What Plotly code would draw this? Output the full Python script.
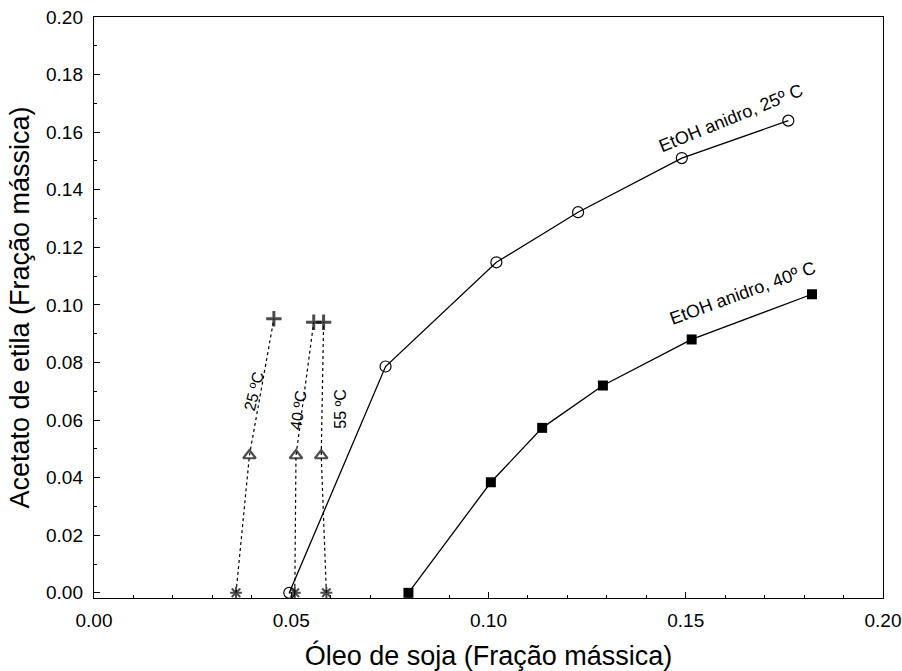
import plotly.graph_objects as go

# EtOH anidro 25 C (open circles)
x25 = [0.0495, 0.0739, 0.1020, 0.1227, 0.1490, 0.1760]
y25 = [0.0000, 0.0786, 0.1148, 0.1322, 0.1510, 0.1640]
# EtOH anidro 40 C (filled squares)
x40 = [0.0797, 0.1006, 0.1136, 0.1290, 0.1515, 0.1820]
y40 = [0.0000, 0.0384, 0.0573, 0.0720, 0.0880, 0.1037]
# Dotted tie lines (star -> triangle -> plus) at 25, 40, 55 C
tie_x = {
    "25": [0.0360, 0.0394, 0.0456],
    "40": [0.0509, 0.0512, 0.0557],
    "55": [0.0589, 0.0576, 0.0582],
}
tie_y = {
    "25": [0.0000, 0.0477, 0.0952],
    "40": [0.0000, 0.0477, 0.0940],
    "55": [0.0000, 0.0477, 0.0940],
}
tie_symbols = ["asterisk-open", "triangle-up-open", "cross-thin-open"]

FONT = "Liberation Sans, Arial, sans-serif"
fig = go.Figure()

for k in ["25", "40", "55"]:
    fig.add_trace(go.Scatter(
        x=tie_x[k], y=tie_y[k], mode="lines+markers",
        line=dict(color="black", width=1.2, dash="dot"),
        marker=dict(symbol=tie_symbols, size=[10, 11, 11], color="black",
                    line=dict(color="black", width=[2, 2.2, 3])),
        cliponaxis=False, showlegend=False))

fig.add_trace(go.Scatter(
    x=x25, y=y25, mode="lines+markers",
    line=dict(color="black", width=1.3),
    marker=dict(symbol="circle-open", size=11, color="black", line=dict(width=1.2)),
    cliponaxis=False, showlegend=False))
fig.add_trace(go.Scatter(
    x=x40, y=y40, mode="lines+markers",
    line=dict(color="black", width=1.3),
    marker=dict(symbol="square", size=10, color="black"),
    cliponaxis=False, showlegend=False))

ann = [
    dict(x=0.0405, y=0.0700, text="25 ºC", textangle=-76, size=16),
    dict(x=0.0517, y=0.0635, text="40 ºC", textangle=-82, size=16),
    dict(x=0.0624, y=0.0640, text="55 ºC", textangle=-90, size=16),
    dict(x=0.1615, y=0.1650, text="EtOH anidro, 25º C", textangle=-22, size=18),
    dict(x=0.1645, y=0.1040, text="EtOH anidro, 40º C", textangle=-20, size=18),
]
for a in ann:
    sz = a.pop("size")
    fig.add_annotation(xref="x", yref="y", showarrow=False,
                       font=dict(family=FONT, size=sz, color="black"), **a)

axis_common = dict(
    showgrid=False, zeroline=False, showline=True, linecolor="black", linewidth=1.4,
    mirror=True, ticks="inside", ticklen=6, tickwidth=1, tickcolor="black",
    tickformat=".2f", tickfont=dict(family=FONT, size=19, color="black"),
    minor=dict(ticks="inside", ticklen=3, tickcolor="black", showgrid=False),
    automargin=False,
)
fig.update_xaxes(range=[0, 0.20], dtick=0.05, tick0=0, ticklabelstandoff=5,
                 title=dict(text="Óleo de soja (Fração mássica)", standoff=16,
                            font=dict(family=FONT, size=27, color="black")),
                 **axis_common)
fig.update_xaxes(minor_dtick=0.01)
fig.update_yaxes(range=[-0.0018, 0.20], dtick=0.02, tick0=0, ticklabelstandoff=6,
                 title=dict(text="Acetato de etila (Fração mássica)", standoff=8,
                            font=dict(family=FONT, size=27, color="black")),
                 **axis_common)
fig.update_yaxes(minor_dtick=0.01)

fig.update_layout(
    width=902, height=671,
    margin=dict(l=94, r=19, t=17, b=73),
    paper_bgcolor="white", plot_bgcolor="white",
    font=dict(family=FONT, color="black"),
)
fig.write_html("out.html")
